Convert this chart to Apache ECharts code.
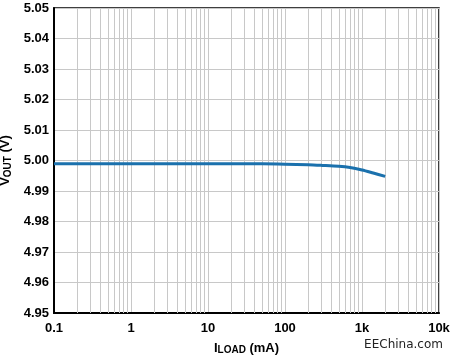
<!DOCTYPE html>
<html>
<head>
<meta charset="utf-8">
<script src="https://cdn.jsdelivr.net/npm/echarts@6/dist/echarts.min.js"></script>
<style>html,body{margin:0;padding:0;background:#fff}#c{width:450px;height:359px}</style>
</head>
<body>
<div id="c"></div>
<script>
var loadCurrent = [0.1, 1, 10, 50, 100, 200, 300, 500, 700, 1000, 1400, 2000];
var vout = [4.9989, 4.9989, 4.9989, 4.9989, 4.9988, 4.9986, 4.9984, 4.9981, 4.9977, 4.9969, 4.9959, 4.9948];
var xTickValues = [0.1, 1, 10, 100, 1000, 10000];
var xTickLabels = ['0.1', '1', '10', '100', '1k', '10k'];
var minorGrid = [];
[0.1, 1, 10, 100, 1000].forEach(function (d) {
  for (var k = 2; k <= 9; k++) minorGrid.push(+(d * k).toPrecision(3));
});

var chart = echarts.init(document.getElementById('c'));
var font = 'Liberation Sans, Arial, sans-serif';
chart.setOption({
  animation: false,
  grid: { left: 54, right: 11, top: 8, bottom: 46, outerBoundsMode: 'none', containLabel: false, show: true, borderColor: '#000', borderWidth: 1.5, backgroundColor: 'transparent' },
  xAxis: {
    type: 'log', logBase: 10, min: 0.1, max: 10000,
    axisLine: { show: true, lineStyle: { color: '#000', width: 2 } },
    axisTick: { show: false },
    splitLine: { show: true, lineStyle: { color: '#c8c8c8', width: 1 } },
    axisLabel: {
      color: '#000', fontFamily: font, fontWeight: 'bold', fontSize: 13, margin: 9,
      formatter: function (v) {
        for (var i = 0; i < xTickValues.length; i++) {
          if (Math.abs(Math.log10(v) - Math.log10(xTickValues[i])) < 1e-6) return xTickLabels[i];
        }
        return '';
      }
    },
    name: '{b|I}{s|LOAD}{b| (mA)}', nameLocation: 'middle', nameGap: 28,
    nameTextStyle: { rich: {
      b: { fontFamily: font, fontWeight: 'bold', fontSize: 13, color: '#000' },
      s: { fontFamily: font, fontWeight: 'bold', fontSize: 10, color: '#000', verticalAlign: 'bottom', padding: [4, 0, 0, 0] }
    } }
  },
  yAxis: {
    type: 'value', min: 4.95, max: 5.05, interval: 0.01,
    axisLine: { show: true, lineStyle: { color: '#000', width: 2 } },
    axisTick: { show: false },
    splitLine: { show: true, lineStyle: { color: '#c8c8c8', width: 1 } },
    axisLabel: {
      color: '#000', fontFamily: font, fontWeight: 'bold', fontSize: 13, margin: 5,
      formatter: function (v) { return v.toFixed(2); }
    },
    name: '{b|V}{s|OUT}{b| (V)}', nameLocation: 'middle', nameGap: 40, nameRotate: 90,
    nameTextStyle: { rich: {
      b: { fontFamily: font, fontWeight: 'bold', fontSize: 13, color: '#000' },
      s: { fontFamily: font, fontWeight: 'bold', fontSize: 10, color: '#000', verticalAlign: 'bottom', padding: [4, 0, 0, 0] }
    } }
  },
  graphic: [{
    type: 'text', right: 7, top: 339,
    style: { text: 'EEChina.com', fontFamily: 'DejaVu Sans, sans-serif', fontSize: 12, fill: '#222' }
  }],
  series: [{
    type: 'line',
    data: loadCurrent.map(function (x, i) { return [x, vout[i]]; }),
    smooth: 0.3, showSymbol: false,
    lineStyle: { color: '#1b71ad', width: 3 },
    z: 5,
    markLine: {
      silent: true, symbol: 'none', animation: false,
      label: { show: false },
      lineStyle: { color: '#c8c8c8', width: 1, type: 'solid' },
      data: minorGrid.map(function (v) { return { xAxis: v }; })
    }
  }]
});
</script>
</body>
</html>
